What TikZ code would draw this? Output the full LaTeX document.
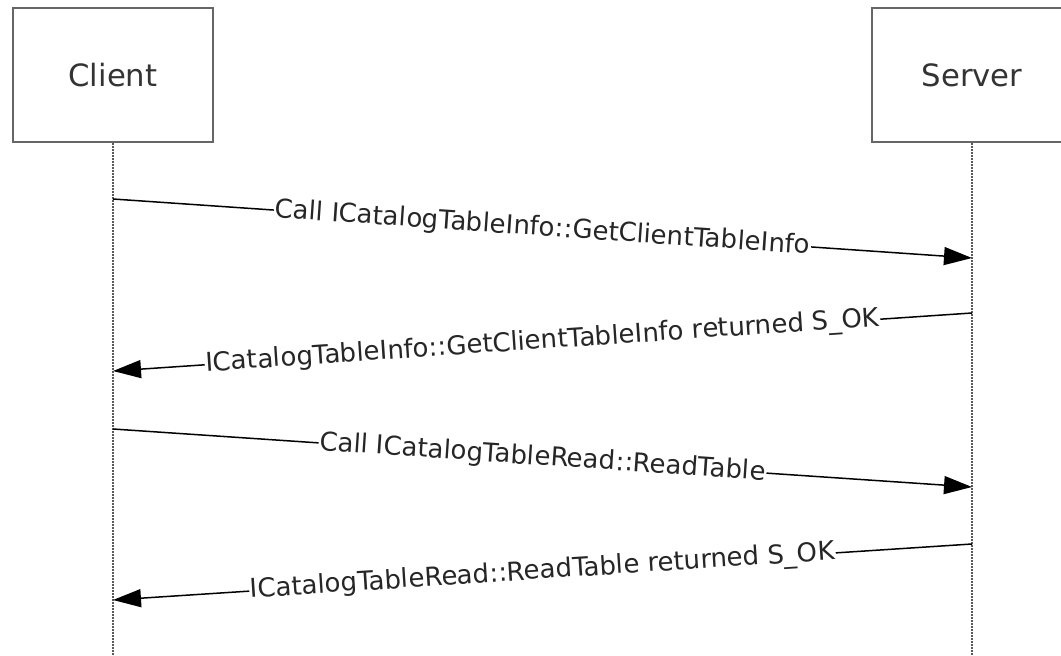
\documentclass[tikz,border=0pt]{standalone}
\usepackage{fontspec}
\setmainfont{DejaVu Sans}
\usetikzlibrary{arrows.meta}

\begin{document}
\begin{tikzpicture}[
    x=1pt, y=-1pt,
    actor/.style={%
      draw=gray!80!black,
      line width=2.5pt,
      rectangle,
      minimum width=200pt,
      minimum height=134pt,
      text=black!80,
      font=\fontsize{30.7}{36}\selectfont,
    },
    lifeline/.style={%
      draw=gray!70!black,
      line width=2.5pt,
      dash pattern=on 2pt off 1pt,
    },
    msg/.style={%
      draw=black,
      line width=1.5pt,
      -{Triangle[length=28pt,width=18pt]},
    },
    lbl/.style={%
      sloped,
      fill=white,
      inner sep=1pt,
      text=black!85,
      font=\fontsize{26}{30}\selectfont,
    },
  ]
    \useasboundingbox (0,0) rectangle (1061,656);

    \node [actor] (client) at (113,75) {Client};
    \node [actor] (server) at (972,75) {Server};
    \coordinate (clientEnd) at (113,660);
    \coordinate (serverEnd) at (972,660);
    \draw [lifeline] (client.south) -- (clientEnd);
    \draw [lifeline] (server.south) -- (serverEnd);

    \coordinate (c1) at (113,199);
    \coordinate (s1) at (972,258);
    \coordinate (s2) at (972,313);
    \coordinate (c2) at (113,371);
    \coordinate (c3) at (113,429);
    \coordinate (s3) at (972,487);
    \coordinate (s4) at (972,544);
    \coordinate (c4) at (113,600);

    \draw [msg] (c1) -- (s1) node [lbl,midway] {Call ICatalogTableInfo::GetClientTableInfo};
    \draw [msg] (s2) -- (c2) node [lbl,midway] {ICatalogTableInfo::GetClientTableInfo returned S\_OK};
    \draw [msg] (c3) -- (s3) node [lbl,midway] {Call ICatalogTableRead::ReadTable};
    \draw [msg] (s4) -- (c4) node [lbl,midway] {ICatalogTableRead::ReadTable returned S\_OK};
\end{tikzpicture}
\end{document}
